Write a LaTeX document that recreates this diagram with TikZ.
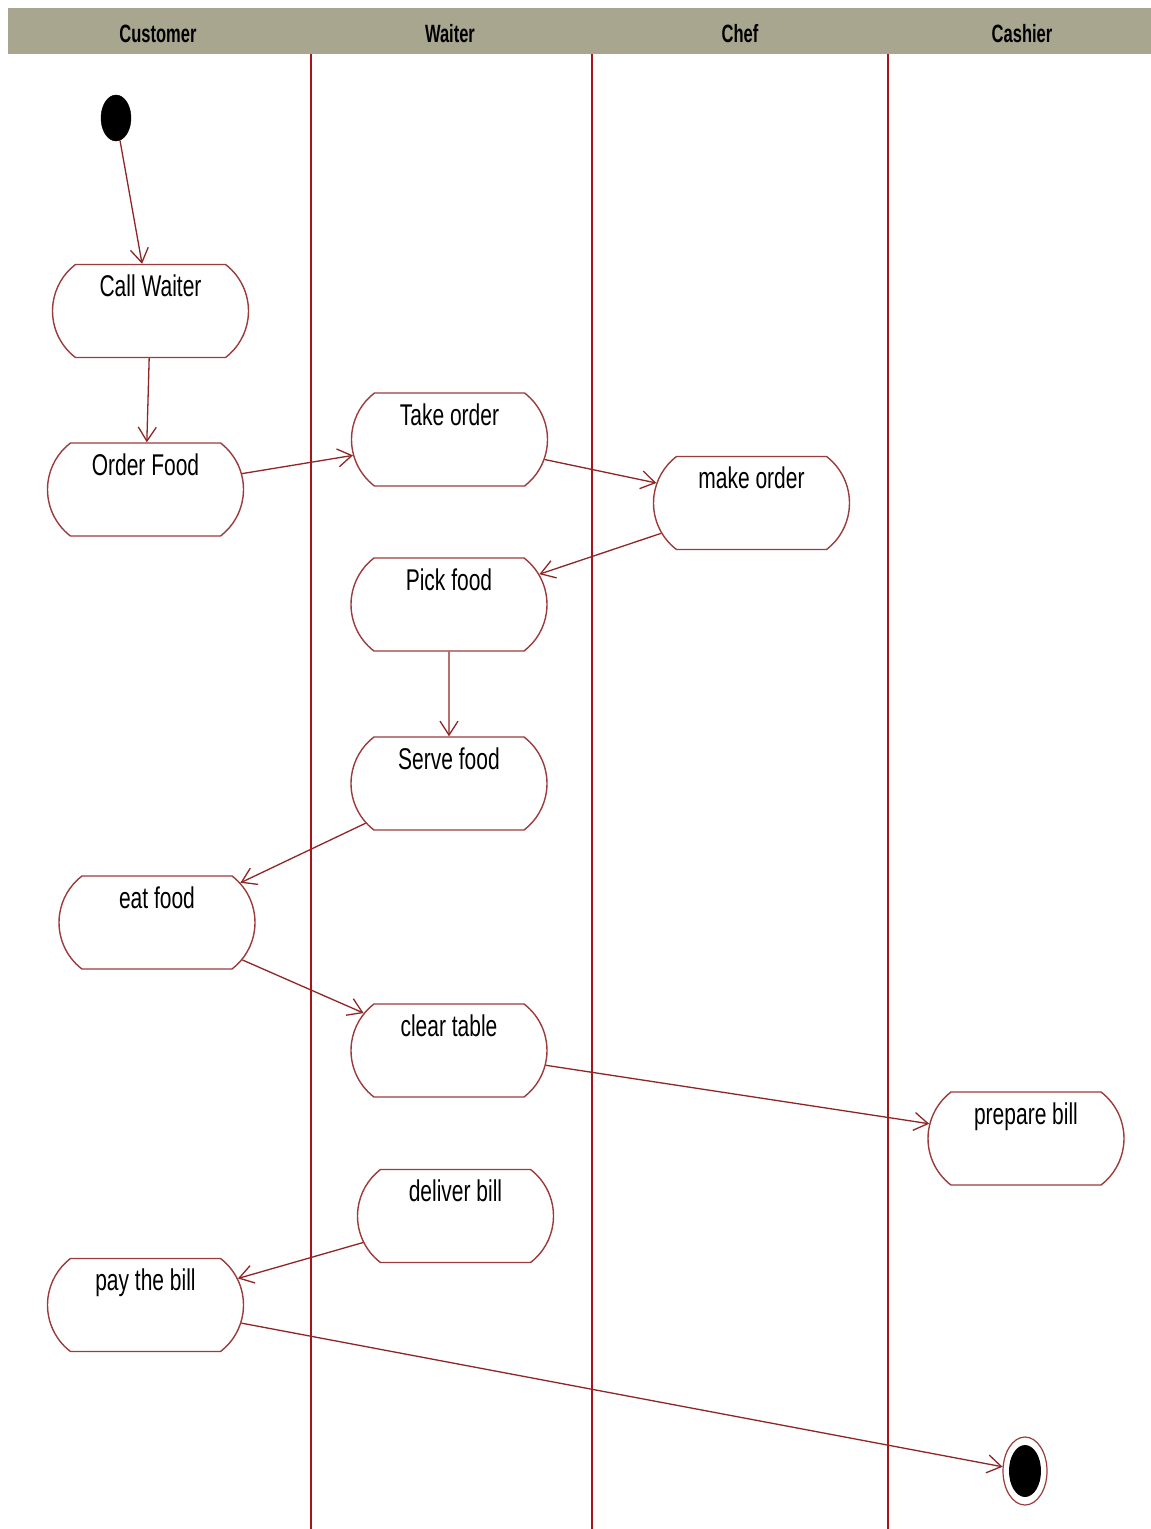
\documentclass[tikz,border=0pt]{standalone}
\usepackage{fontspec}
\setmainfont{Liberation Sans}
\usetikzlibrary{shapes.misc,shapes.geometric,arrows.meta}
\definecolor{headcol}{HTML}{A9A68F}
\definecolor{lanecol}{HTML}{A8141A}
\definecolor{nodecol}{HTML}{9B3B3B}
\definecolor{arrcol}{HTML}{8E2626}
\newcommand\condtxt[1]{\scalebox{0.7}[1]{#1}}
\newcommand\headtxt[1]{\scalebox{0.66}[1]{#1}}
\tikzset{
  act/.style={rounded rectangle, rounded rectangle arc length=105, draw=nodecol,
    line width=1.4pt, fill=white, minimum width=196pt, inner xsep=0pt, inner ysep=0pt,
    text height=32pt, text depth=61pt, font=\fontsize{30}{36}\selectfont},
  lane/.style={draw=lanecol, line width=1.4pt},
  flow/.style={draw=arrcol, line width=1.3pt, -{Straight Barb[length=14pt,width=18pt,line width=1.3pt]}},
  headlbl/.style={font=\fontsize{25}{30}\selectfont\bfseries, inner sep=0pt},
  startn/.style={ellipse, fill=black, draw=black, minimum width=30pt, minimum height=46pt, inner sep=0pt},
  endring/.style={ellipse, draw=nodecol, line width=1.2pt, minimum width=44pt, minimum height=68pt, inner sep=0pt}
}
\begin{document}
\begin{tikzpicture}[x=1pt,y=-1pt]
\useasboundingbox (0,0) rectangle (1151,1529);
\fill[white] (0,0) rectangle (1151,1529);
% header band
\fill[headcol] (8,8) rectangle (1151,54);
\node[headlbl] (hcust) at (158,34) {\headtxt{Customer}};
\node[headlbl] (hwait) at (450,34) {\headtxt{Waiter}};
\node[headlbl] (hchef) at (740,34) {\headtxt{Chef}};
\node[headlbl] (hcash) at (1022,34) {\headtxt{Cashier}};
% lane separators
\draw[lane] (311,54) -- (311,1529);
\draw[lane] (592,54) -- (592,1529);
\draw[lane] (888,54) -- (888,1529);
% nodes
\node[startn] (start) at (116,118) {};
\node[act] (cw) at (150.5,311) {\condtxt{Call Waiter}};
\node[act] (of) at (145.5,489.5) {\condtxt{Order Food}};
\node[act] (to) at (449.5,439.5) {\condtxt{Take order}};
\node[act] (mo) at (751.5,503) {\condtxt{make order}};
\node[act] (pf) at (449,604.5) {\condtxt{Pick food}};
\node[act] (sf) at (449,783.5) {\condtxt{Serve food}};
\node[act] (ef) at (157,922.5) {\condtxt{eat food}};
\node[act] (ct) at (449,1050.5) {\condtxt{clear table}};
\node[act] (pb) at (1026,1138.5) {\condtxt{prepare bill}};
\node[act] (db) at (455.5,1216) {\condtxt{deliver bill}};
\node[act] (pay) at (145.5,1305) {\condtxt{pay the bill}};
\node[endring] (endn) at (1025,1471) {};
\fill[black] (endn.center) ellipse [x radius=16pt, y radius=26pt];
% connectors
\draw[flow] (start) -- (cw);
\draw[flow] (cw) -- (of);
\draw[flow] (of) -- (to);
\draw[flow] (to) -- (mo);
\draw[flow] (mo) -- (pf);
\draw[flow] (pf) -- (sf);
\draw[flow] (sf) -- (ef);
\draw[flow] (ef) -- (ct);
\draw[flow] (ct) -- (pb);
\draw[flow] (db) -- (pay);
\draw[flow] (pay) -- (endn);
\end{tikzpicture}
\end{document}
